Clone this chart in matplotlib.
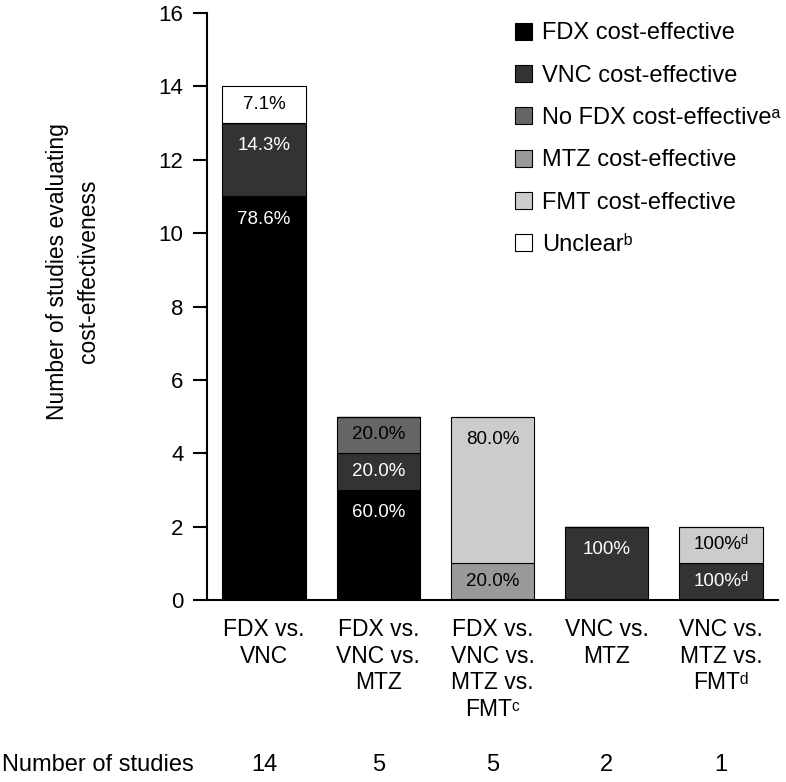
import matplotlib
matplotlib.use('Agg')
import matplotlib.pyplot as plt
import matplotlib.transforms as mtransforms
from matplotlib.patches import Patch

plt.rcParams['font.family'] = ['Liberation Sans', 'DejaVu Sans']
narrow = ['Liberation Sans Narrow', 'Liberation Sans', 'DejaVu Sans']

categorias = ['FDX vs.\nVNC', 'FDX vs.\nVNC vs.\nMTZ', 'FDX vs.\nVNC vs.\nMTZ vs.\nFMT\u1d9c',
              'VNC vs.\nMTZ', 'VNC vs.\nMTZ vs.\nFMT\u1d48']
n_estudos = [14, 5, 5, 2, 1]

series = ['FDX cost-effective', 'VNC cost-effective', 'No FDX cost-effective\u1d43',
          'MTZ cost-effective', 'FMT cost-effective', 'Unclear\u1d47']
fdx = [11, 3, 0, 0, 0]
vnc = [2, 1, 0, 2, 1]
no_fdx = [0, 1, 0, 0, 0]
mtz = [0, 0, 1, 0, 0]
fmt = [0, 0, 4, 0, 1]
unclear = [1, 0, 0, 0, 0]

fdx_pct = ['78.6%', '60.0%', '', '', '']
vnc_pct = ['14.3%', '20.0%', '', '100%', '100%\u1d48']
no_fdx_pct = ['', '20.0%', '', '', '']
mtz_pct = ['', '', '20.0%', '', '']
fmt_pct = ['', '', '80.0%', '', '100%\u1d48']
unclear_pct = ['7.1%', '', '', '', '']

cores = ['#000000', '#333333', '#666666', '#999999', '#cccccc', '#ffffff']
cor_texto = ['white', 'white', 'black', 'black', 'black', 'black']

fig = plt.figure(figsize=(7.86, 7.82), dpi=100)
ax = fig.add_axes([0.2634, 0.2327, 0.7266, 0.7507])

x = list(range(len(categorias)))
base = [0] * len(x)
valores = [fdx, vnc, no_fdx, mtz, fmt, unclear]
rotulos = [fdx_pct, vnc_pct, no_fdx_pct, mtz_pct, fmt_pct, unclear_pct]
for vals, pcts, cor, ct in zip(valores, rotulos, cores, cor_texto):
    ax.bar(x, vals, bottom=base, width=0.73, color=cor, edgecolor='black', linewidth=0.8)
    for i in x:
        if vals[i] > 0 and pcts[i]:
            topo = base[i] + vals[i]
            desl = 0.5 if vals[i] == 1 else 0.62
            ax.text(i, topo - desl, pcts[i], ha='center', va='center', fontsize=13.5, color=ct)
    base = [b + v for b, v in zip(base, vals)]

ax.set_xlim(-0.5, 4.5)
ax.set_ylim(0, 16)
ax.set_yticks(range(0, 17, 2))
ax.tick_params(axis='y', direction='out', length=10, width=1.5, labelsize=16, pad=7)
ax.tick_params(axis='x', length=0, pad=13)
ax.set_xticks(x)
ax.set_xticklabels(categorias, fontsize=16.5, family=narrow, linespacing=1.2, va='top')
ax.spines['top'].set_visible(False)
ax.spines['right'].set_visible(False)
ax.spines['left'].set_linewidth(1.5)
ax.spines['bottom'].set_linewidth(1.5)

ax.set_ylabel('Number of studies evaluating\ncost-effectiveness', fontsize=16.5, linespacing=1.45)
ax.yaxis.set_label_coords(-0.187, 0.56)

handles = [Patch(facecolor=c, edgecolor='black', linewidth=0.8) for c in cores]
ax.legend(handles, series, loc='upper right', bbox_to_anchor=(1.02, 1.0), frameon=False,
          fontsize=17, labelspacing=0.86, handlelength=0.72, handleheight=0.72,
          handletextpad=0.4, borderaxespad=0.0)

trans = mtransforms.blended_transform_factory(ax.transData, fig.transFigure)
fig.text(0.003, 0.022, 'Number of studies', fontsize=17, family=narrow, va='center', ha='left')
for i, n in zip(x, n_estudos):
    ax.text(i, 0.022, str(n), transform=trans, fontsize=17, family=narrow, ha='center', va='center')

fig.savefig('out.png', dpi=100)
